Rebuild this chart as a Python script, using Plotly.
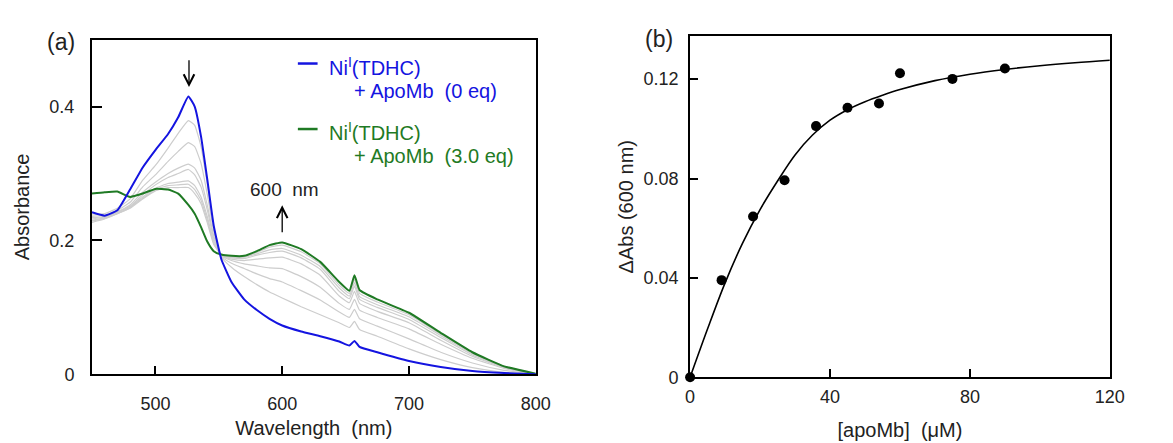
import plotly.graph_objects as go

# ---------------- Panel (a): UV-vis titration spectra ----------------
wavelength = [450, 460, 470, 480, 490, 500, 510, 518, 526, 531, 536, 541, 546, 552,
              560, 570, 580, 590, 600, 615, 630, 645, 653, 657, 661, 675, 700, 725,
              750, 775, 800]

abs_0eq = [0.242, 0.237, 0.245, 0.276, 0.309, 0.335, 0.359, 0.384, 0.415, 0.400, 0.355,
           0.290, 0.222, 0.172, 0.138, 0.112, 0.096, 0.083, 0.073, 0.064, 0.057, 0.049,
           0.043, 0.050, 0.041, 0.033, 0.020, 0.011, 0.005, 0.002, 0.000]

abs_3eq = [0.270, 0.272, 0.273, 0.265, 0.270, 0.277, 0.276, 0.270, 0.253, 0.240, 0.220,
           0.198, 0.184, 0.179, 0.177, 0.177, 0.184, 0.193, 0.197, 0.187, 0.168, 0.138,
           0.125, 0.148, 0.126, 0.112, 0.092, 0.062, 0.033, 0.012, 0.001]

abs_mid1 = [0.238, 0.240, 0.248, 0.262, 0.290, 0.312, 0.338, 0.360, 0.379, 0.372, 0.340,
            0.283, 0.220, 0.175, 0.160, 0.146, 0.134, 0.123, 0.114, 0.101, 0.089, 0.077,
            0.070, 0.079, 0.067, 0.057, 0.038, 0.022, 0.010, 0.003, 0.000]
abs_mid2 = [0.236, 0.238, 0.245, 0.257, 0.280, 0.298, 0.318, 0.333, 0.346, 0.340, 0.315,
            0.268, 0.214, 0.176, 0.166, 0.158, 0.150, 0.143, 0.138, 0.125, 0.111, 0.093,
            0.085, 0.097, 0.083, 0.072, 0.053, 0.033, 0.017, 0.006, 0.000]
abs_mid3 = [0.234, 0.236, 0.243, 0.253, 0.272, 0.287, 0.300, 0.308, 0.314, 0.308, 0.290,
            0.252, 0.207, 0.177, 0.170, 0.165, 0.162, 0.159, 0.158, 0.146, 0.130, 0.106,
            0.097, 0.112, 0.096, 0.085, 0.068, 0.045, 0.024, 0.009, 0.000]
abs_mid4 = [0.232, 0.235, 0.242, 0.251, 0.268, 0.283, 0.294, 0.300, 0.306, 0.298, 0.280,
            0.245, 0.203, 0.177, 0.172, 0.170, 0.172, 0.174, 0.175, 0.165, 0.148, 0.117,
            0.107, 0.124, 0.106, 0.094, 0.077, 0.051, 0.027, 0.010, 0.000]
abs_mid5 = [0.230, 0.234, 0.241, 0.250, 0.265, 0.278, 0.285, 0.287, 0.289, 0.282, 0.265,
            0.235, 0.199, 0.178, 0.174, 0.173, 0.178, 0.182, 0.184, 0.174, 0.157, 0.124,
            0.113, 0.132, 0.112, 0.100, 0.082, 0.055, 0.029, 0.011, 0.000]
abs_mid6 = [0.229, 0.233, 0.240, 0.249, 0.263, 0.276, 0.282, 0.283, 0.284, 0.276, 0.260,
            0.230, 0.196, 0.178, 0.175, 0.175, 0.180, 0.186, 0.188, 0.178, 0.161, 0.129,
            0.117, 0.137, 0.116, 0.104, 0.086, 0.058, 0.031, 0.011, 0.000]
abs_mid7 = [0.227, 0.232, 0.240, 0.248, 0.262, 0.274, 0.279, 0.279, 0.279, 0.270, 0.255,
            0.226, 0.194, 0.179, 0.176, 0.176, 0.182, 0.190, 0.193, 0.183, 0.165, 0.133,
            0.121, 0.142, 0.121, 0.108, 0.089, 0.060, 0.032, 0.012, 0.001]

mid_spectra = [abs_mid1, abs_mid2, abs_mid3, abs_mid4, abs_mid5, abs_mid6, abs_mid7]

# ---------------- Panel (b): titration curve at 600 nm ----------------
apomb_conc = [0, 9, 18, 27, 36, 45, 54, 60, 75, 90]
dabs_600 = [0.0, 0.0391, 0.0647, 0.0793, 0.1011, 0.1085, 0.1102, 0.1224, 0.1201, 0.1243]

fit_conc = [0, 5, 10, 15, 20, 25, 30, 35, 40, 45, 50, 55, 60, 70, 80, 90, 100, 110, 120]
fit_dabs = [0.0, 0.0195, 0.0380, 0.0540, 0.0675, 0.0790, 0.0895, 0.0975, 0.1035, 0.1077,
            0.1109, 0.1135, 0.1158, 0.1194, 0.1220, 0.1239, 0.1254, 0.1266, 0.1276]

BLUE = "#1414e0"
GREEN = "#1f7a24"
GRAY = "#cdcdcd"
FONT = "Liberation Sans, Arial, sans-serif"

fig = go.Figure()

for spec in mid_spectra:
    fig.add_trace(go.Scatter(x=wavelength, y=spec, mode="lines",
                             line=dict(color=GRAY, width=1.2, shape="spline", smoothing=0.4),
                             showlegend=False, xaxis="x", yaxis="y"))
fig.add_trace(go.Scatter(x=wavelength, y=abs_3eq, mode="lines", name="3.0 eq",
                         line=dict(color=GREEN, width=2, shape="spline", smoothing=0.4),
                         showlegend=False, xaxis="x", yaxis="y"))
fig.add_trace(go.Scatter(x=wavelength, y=abs_0eq, mode="lines", name="0 eq",
                         line=dict(color=BLUE, width=2, shape="spline", smoothing=0.4),
                         showlegend=False, xaxis="x", yaxis="y"))

fig.add_trace(go.Scatter(x=fit_conc, y=fit_dabs, mode="lines",
                         line=dict(color="black", width=1.6, shape="spline", smoothing=1.0),
                         showlegend=False, xaxis="x2", yaxis="y2"))
fig.add_trace(go.Scatter(x=apomb_conc, y=dabs_600, mode="markers",
                         marker=dict(color="black", size=10),
                         cliponaxis=False, showlegend=False, xaxis="x2", yaxis="y2"))

axis_common = dict(showline=True, linecolor="black", linewidth=2, mirror=True,
                   ticks="inside", tickcolor="black", tickwidth=1.5,
                   showgrid=False, zeroline=False,
                   tickfont=dict(size=18, color="#222", family=FONT))

fig.update_layout(
    width=1173, height=443,
    margin=dict(l=0, r=0, t=0, b=0),
    paper_bgcolor="white", plot_bgcolor="white",
    font=dict(family=FONT, size=18, color="#222"),
    showlegend=False,
    xaxis=dict(domain=[0.07545, 0.46036], range=[450, 800], tick0=500, dtick=100,
               ticklen=8, ticklabelstandoff=12, anchor="y",
               title=dict(text="Wavelength  (nm)", standoff=8, font=dict(size=20)),
               **axis_common),
    yaxis=dict(domain=[0.13544, 0.90858], range=[0, 0.5], dtick=0.2,
               ticklen=10, ticklabelstandoff=12, anchor="x",
               title=dict(text="Absorbance", standoff=14, font=dict(size=20)),
               **axis_common),
    xaxis2=dict(domain=[0.59420, 0.95823], range=[0, 120], dtick=40,
                ticklen=8, ticklabelstandoff=2, anchor="y2",
                title=dict(text="[apoMb]  (μM)", standoff=17, font=dict(size=20)),
                **axis_common),
    yaxis2=dict(domain=[0.12867, 0.91648], range=[0, 0.1373], dtick=0.04,
                ticklen=8, ticklabelstandoff=6, anchor="x2",
                title=dict(text="ΔAbs (600 nm)", standoff=4, font=dict(size=20)),
                **axis_common),
)

# Legend samples (decorative) for panel (a)
fig.add_shape(type="line", xref="paper", yref="paper", x0=0.2540, x1=0.2711,
              y0=0.8533, y1=0.8533, line=dict(color=BLUE, width=2.5))
fig.add_shape(type="line", xref="paper", yref="paper", x0=0.2540, x1=0.2711,
              y0=0.7020, y1=0.7020, line=dict(color=GREEN, width=2.5))

ann = [
    dict(text="Ni<sup>I</sup>(TDHC)", x=0.2796, y=0.8465, color=BLUE),
    dict(text="+ ApoMb  (0 eq)", x=0.3009, y=0.7901, color=BLUE),
    dict(text="Ni<sup>I</sup>(TDHC)", x=0.2796, y=0.6953, color=GREEN),
    dict(text="+ ApoMb  (3.0 eq)", x=0.3009, y=0.6388, color=GREEN),
]
for a in ann:
    fig.add_annotation(text=a["text"], x=a["x"], y=a["y"], xref="paper", yref="paper",
                       xanchor="left", yanchor="middle", showarrow=False,
                       font=dict(size=20, color=a["color"], family=FONT))

# Panel labels
fig.add_annotation(text="(a)", x=0.035, y=0.9368, xref="paper", yref="paper",
                   showarrow=False, font=dict(size=23, color="#222", family=FONT))
fig.add_annotation(text="(b)", x=0.5669, y=0.9436, xref="paper", yref="paper",
                   showarrow=False, font=dict(size=23, color="#222", family=FONT))

# Arrows in panel (a)
fig.add_annotation(x=526.5, y=0.429, ax=526.5, ay=0.4715, xref="x", yref="y",
                   axref="x", ayref="y", showarrow=True, arrowhead=5, arrowsize=1.6,
                   arrowwidth=1.3, arrowcolor="black", text="")
fig.add_annotation(x=600, y=0.2526, ax=600, ay=0.21, xref="x", yref="y",
                   axref="x", ayref="y", showarrow=True, arrowhead=5, arrowsize=1.6,
                   arrowwidth=1.3, arrowcolor="black", text="")
fig.add_annotation(text="600  nm", x=601.5, y=0.276, xref="x", yref="y", showarrow=False,
                   font=dict(size=19, color="#222", family=FONT))

fig.write_html("out.html")
